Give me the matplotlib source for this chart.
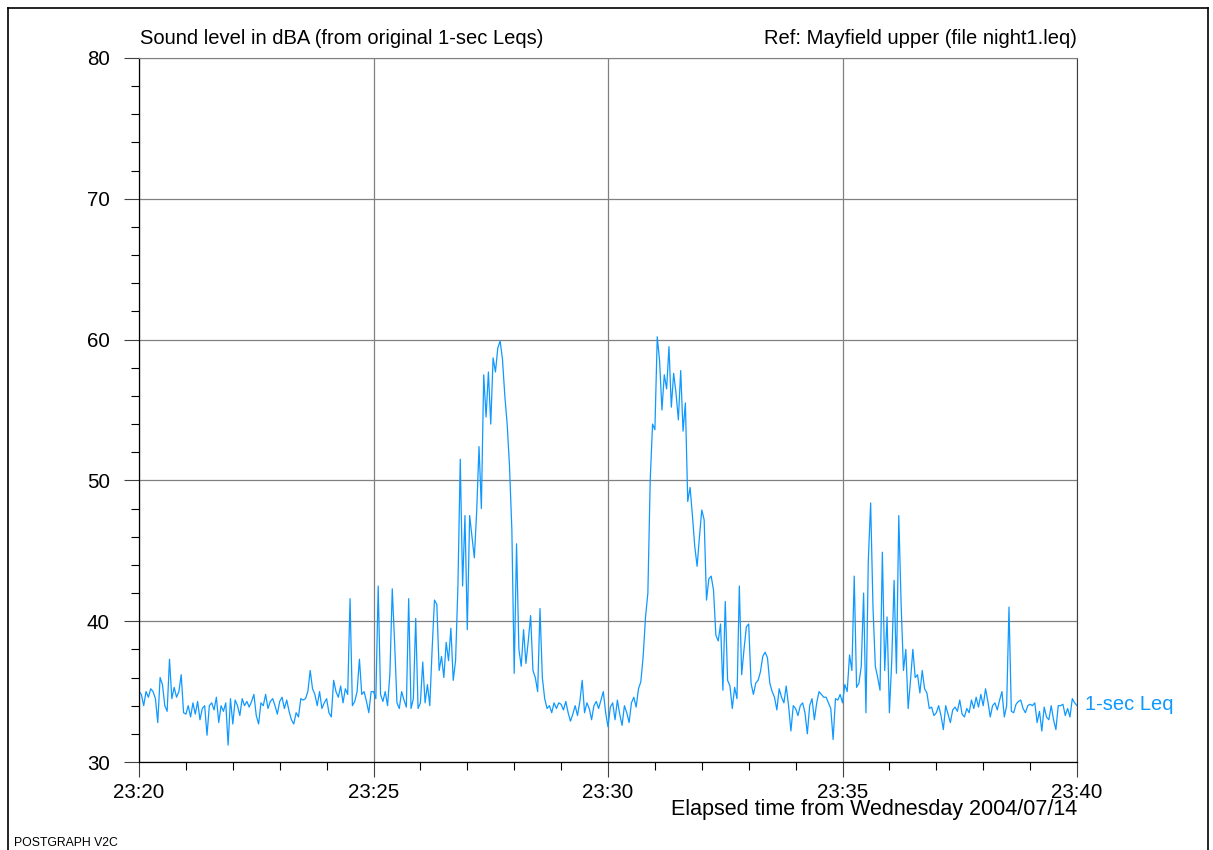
import numpy as np
import matplotlib
matplotlib.use('Agg')
import matplotlib.pyplot as plt
from matplotlib.lines import Line2D
from matplotlib.ticker import FixedLocator, MultipleLocator

plt.rcParams['font.family'] = ['Liberation Sans', 'DejaVu Sans']

# 1-sec Leq, one value every 3 seconds (20 per minute)
step_s = 3
leq = [
    35.0, 34.8, 34.0, 35.0, 34.6, 35.2, 35.0, 34.5, 32.8, 36.0, 35.5, 34.0, 33.6, 37.3, 34.5, 35.3, 34.6, 35.0, 36.2, 33.5,
    33.4, 34.0, 33.2, 34.2, 33.4, 34.3, 33.0, 33.8, 34.0, 31.9, 34.0, 34.2, 33.7, 34.6, 32.8, 34.0, 33.6, 34.2, 31.2, 34.5,
    32.7, 34.4, 34.0, 33.3, 34.5, 34.0, 34.3, 33.9, 34.3, 34.8, 33.3, 32.7, 34.2, 34.0, 34.8, 33.8, 34.3, 34.5, 34.0, 33.4,
    34.3, 34.6, 33.8, 34.4, 33.6, 33.0, 32.7, 33.5, 33.2, 34.5, 34.4, 34.5, 35.0, 36.5, 35.2, 34.8, 34.0, 35.0, 33.8, 34.2,
    34.5, 33.5, 33.2, 35.8, 35.0, 34.6, 35.4, 34.2, 35.2, 34.8, 41.6, 34.0, 34.3, 35.0, 37.3, 34.8, 35.0, 34.3, 33.5, 35.0,
    35.0, 34.5, 42.5, 34.8, 34.3, 35.0, 34.0, 36.3, 42.3, 38.5, 34.2, 33.8, 35.0, 34.4, 33.9, 41.6, 33.8, 34.5, 40.2, 33.8,
    34.2, 37.1, 34.2, 35.5, 34.0, 38.0, 41.5, 41.2, 36.5, 37.5, 36.0, 38.5, 37.2, 39.5, 35.8, 37.2, 42.5, 51.5, 42.5, 47.5,
    39.4, 47.5, 46.0, 44.5, 47.8, 52.4, 48.0, 57.5, 54.5, 57.7, 54.0, 58.7, 57.7, 59.4, 59.9, 58.6, 56.0, 54.0, 51.0, 46.5,
    36.3, 45.5, 38.0, 36.8, 39.4, 37.0, 38.6, 40.4, 36.5, 36.0, 35.0, 40.9, 36.0, 34.5, 33.8, 34.0, 33.5, 34.2, 33.8, 34.2,
    34.1, 33.7, 34.3, 33.5, 32.9, 33.4, 34.0, 33.3, 34.3, 35.8, 33.5, 34.2, 33.8, 33.0, 34.0, 34.3, 33.8, 34.4, 35.0, 33.5,
    32.5, 33.9, 34.2, 33.0, 34.4, 33.4, 32.6, 34.0, 33.5, 32.8, 34.2, 34.6, 33.9, 35.2, 35.7, 37.5, 40.3, 42.0, 50.0, 54.0,
    53.6, 60.2, 58.5, 55.0, 57.5, 56.5, 59.5, 55.2, 57.6, 56.2, 54.3, 57.8, 53.5, 55.5, 48.5, 49.5, 47.5, 45.3, 43.9, 46.0,
    47.9, 47.2, 41.5, 43.0, 43.2, 42.2, 39.0, 38.6, 39.8, 35.1, 41.4, 35.8, 35.4, 33.8, 35.3, 34.5, 42.5, 36.2, 38.0, 39.6,
    39.8, 35.6, 34.8, 35.6, 35.8, 36.4, 37.5, 37.8, 37.4, 35.6, 35.0, 34.6, 33.7, 35.2, 34.6, 34.2, 35.4, 34.0, 32.2, 34.0,
    33.8, 33.3, 34.0, 34.2, 33.5, 32.0, 34.0, 34.5, 33.0, 34.2, 35.0, 34.8, 34.6, 34.6, 34.2, 33.8, 31.6, 34.5, 34.4, 34.8,
    34.2, 35.5, 35.0, 37.6, 36.5, 43.2, 35.3, 35.6, 36.8, 42.0, 33.5, 44.3, 48.4, 41.0, 36.8, 36.0, 35.1, 44.9, 36.5, 40.3,
    33.5, 37.2, 42.9, 36.3, 47.5, 41.2, 36.5, 38.0, 33.8, 35.8, 38.0, 36.0, 36.2, 34.9, 36.5, 35.2, 34.9, 33.8, 33.9, 33.3,
    33.5, 34.0, 33.3, 32.3, 34.0, 33.4, 32.8, 33.7, 33.9, 33.6, 34.4, 33.4, 33.2, 33.8, 33.5, 34.4, 33.8, 34.6, 33.9, 34.8,
    34.0, 35.2, 34.3, 33.2, 34.0, 34.2, 33.7, 34.4, 35.0, 33.2, 34.0, 41.0, 33.6, 33.5, 34.1, 34.3, 34.4, 33.8, 33.5, 34.0,
    34.1, 34.0, 34.2, 32.8, 33.6, 32.2, 33.9, 33.2, 33.0, 34.0, 33.0, 32.3, 34.0, 34.0, 34.1, 33.3, 33.8, 33.2, 34.5, 34.2,
    34.0,
]
t = np.arange(len(leq)) * step_s

tick_pos = [0, 300, 600, 900, 1200]
tick_labels = ['23:20', '23:25', '23:30', '23:35', '23:40']
y_ticks = [30, 40, 50, 60, 70, 80]

blue = '#0F99FF'
grey = '#808080'

fig = plt.figure(figsize=(12.13, 8.5), dpi=100)
ax = fig.add_axes([139/1213, 1-762/850, (1077-139)/1213, (762-58)/850])

ax.plot(t, leq, color=blue, lw=0.9)

ax.set_xlim(0, 1200)
ax.set_ylim(30, 80)
ax.xaxis.set_major_locator(FixedLocator(tick_pos))
ax.set_xticklabels(tick_labels)
ax.xaxis.set_minor_locator(MultipleLocator(60))
ax.set_yticks(y_ticks)
ax.yaxis.set_minor_locator(MultipleLocator(2))

ax.grid(True, which='major', color=grey, lw=0.9)
ax.tick_params(which='major', direction='out', length=11, width=0.8, labelsize=14.8, color='#404040')
ax.tick_params(axis='y', which='major', pad=10)
ax.tick_params(axis='x', which='major', pad=4)
ax.tick_params(which='minor', direction='out', length=6, width=0.8, color='black')

for s in ['left', 'bottom']:
    ax.spines[s].set_color('black')
    ax.spines[s].set_linewidth(0.9)
ax.spines['top'].set_color(grey)
ax.spines['right'].set_color('#404040')

ax.text(1210, 34.1, '1-sec Leq', color=blue, fontsize=14.5, va='center', ha='left', clip_on=False)

fig.text(140/1213, 1-38/850, 'Sound level in dBA (from original 1-sec Leqs)', fontsize=14.5, va='center', ha='left')
fig.text(1077/1213, 1-38/850, 'Ref: Mayfield upper (file night1.leq)', fontsize=14.5, va='center', ha='right')
fig.text(1077/1213, 1-810/850, 'Elapsed time from Wednesday 2004/07/14', fontsize=15.5, va='center', ha='right')
fig.text(14/1213, 1-843/850, 'POSTGRAPH V2C', fontsize=8.8, va='center', ha='left')

# outer frame
fig.add_artist(Line2D([8/1213, 8/1213], [-0.01, 1-8/850], color='black', lw=1.2))
fig.add_artist(Line2D([8/1213, 1208/1213], [1-8/850, 1-8/850], color='black', lw=1.2))
fig.add_artist(Line2D([1208/1213, 1208/1213], [-0.01, 1-8/850], color='black', lw=1.2))

fig.savefig('out.png', dpi=100)
